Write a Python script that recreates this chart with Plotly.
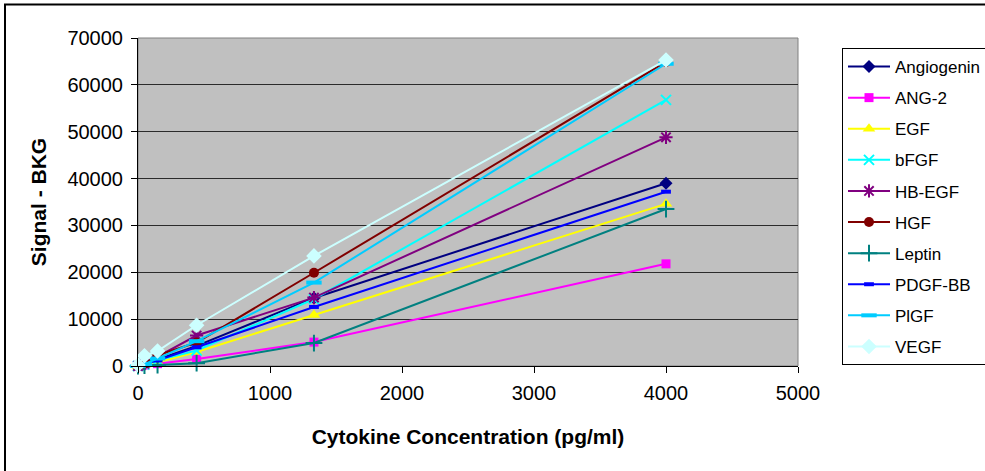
import plotly.graph_objects as go

# ---- data ----
concentration = [0, 49, 148, 444, 1333, 4000]

angiogenin = [0, 400, 1400, 4300, 14500, 39000]
ang2 = [0, 200, 500, 1500, 5100, 21800]
egf = [0, 200, 800, 3000, 10900, 34600]
bfgf = [0, 300, 1200, 3300, 14300, 56800]
hb_egf = [0, 500, 2000, 6500, 14600, 48800]
hgf = [0, 500, 2300, 5000, 19900, 64900]
leptin = [0, 100, 200, 600, 4900, 33500]
pdgf_bb = [0, 400, 1200, 4000, 12600, 37200]
plgf = [0, 400, 1600, 5300, 17800, 64500]
vegf = [200, 2200, 3200, 8700, 23500, 65300]

series_names = ["Angiogenin", "ANG-2", "EGF", "bFGF", "HB-EGF", "HGF",
                "Leptin", "PDGF-BB", "PlGF", "VEGF"]
series_values = [angiogenin, ang2, egf, bfgf, hb_egf, hgf,
                 leptin, pdgf_bb, plgf, vegf]

x_ticks = [0, 1000, 2000, 3000, 4000, 5000]
y_ticks = [0, 10000, 20000, 30000, 40000, 50000, 60000, 70000]

# ---- styles ----
styles = [
    dict(color="#000080", symbol="diamond", size=10, open=False),
    dict(color="#FF00FF", symbol="square", size=9, open=False),
    dict(color="#FFFF00", symbol="triangle-up", size=11, open=False),
    dict(color="#00FFFF", symbol="x-thin-open", size=10, open=True, lw=2),
    dict(color="#800080", symbol="asterisk-open", size=11, open=True, lw=2),
    dict(color="#800000", symbol="circle", size=10, open=False),
    dict(color="#008080", symbol="cross-thin-open", size=12, open=True, lw=2),
    dict(color="#0000FF", symbol="line-ew-open", size=7, open=True, lw=4),
    dict(color="#00CCFF", symbol="line-ew-open", size=11, open=True, lw=4),
    dict(color="#CCFFFF", symbol="diamond", size=12, open=False),
]

fig = go.Figure()
for i, (name, vals, st) in enumerate(zip(series_names, series_values, styles)):
    if st["open"]:
        marker = dict(symbol=st["symbol"], size=st["size"], color=st["color"],
                      line=dict(color=st["color"], width=st["lw"]))
    else:
        marker = dict(symbol=st["symbol"], size=st["size"], color=st["color"],
                      line=dict(width=0))
    fig.add_trace(go.Scatter(
        x=concentration, y=vals, name=name, mode="lines+markers",
        line=dict(color=st["color"], width=2),
        marker=marker, cliponaxis=False, legendgroup=f"g{i}",
    ))

W, H = 985, 471
L, R, T, B = 138, 798, 38, 366.5
pw, ph = R - L, B - T


def px_x(p):
    return (p - L) / pw


def px_y(p):
    return (B - p) / ph


fig.update_layout(
    width=W, height=H, autosize=False,
    margin=dict(l=L, r=W - R, t=T, b=H - B, pad=0, autoexpand=False),
    paper_bgcolor="white",
    plot_bgcolor="#C0C0C0",
    font=dict(family="Arial, Liberation Sans, sans-serif", color="black"),
    showlegend=True,
    legend=dict(
        x=px_x(842), y=px_y(48), xanchor="left", yanchor="top",
        bgcolor="white", bordercolor="black", borderwidth=1,
        font=dict(size=17, family="Arial, Liberation Sans, sans-serif"),
        tracegroupgap=6, itemwidth=42,
    ),
    xaxis=dict(
        range=[0, 5000], tickvals=x_ticks, ticktext=[str(v) for v in x_ticks],
        showgrid=False, zeroline=False, showline=True, linecolor="black",
        linewidth=1, ticks="outside", ticklen=6, tickcolor="black",
        tickfont=dict(size=20), ticklabelstandoff=3,
        title=dict(text="<b>Cytokine Concentration (pg/ml)</b>",
                   font=dict(size=21), standoff=26),
        automargin=False, fixedrange=True,
    ),
    yaxis=dict(
        range=[0, 70000], tickvals=y_ticks, ticktext=[str(v) for v in y_ticks],
        showgrid=True, gridcolor="#2b2b2b", gridwidth=1,
        zeroline=False, showline=True, linecolor="black", linewidth=1,
        ticks="outside", ticklen=6, tickcolor="black",
        tickfont=dict(size=20), ticklabelstandoff=4,
        title=dict(text="<b>Signal - BKG</b>", font=dict(size=21), standoff=15),
        automargin=False, fixedrange=True,
    ),
    shapes=[
        # plot area frame
        dict(type="rect", xref="paper", yref="paper", x0=0, x1=1, y0=0, y1=1,
             line=dict(color="#808080", width=1), fillcolor="rgba(0,0,0,0)",
             layer="below"),
        # outer chart border
        dict(type="rect", xref="paper", yref="paper",
             x0=px_x(5), x1=px_x(1000), y0=px_y(4.5), y1=px_y(480),
             line=dict(color="black", width=2), fillcolor="rgba(0,0,0,0)",
             layer="above"),
    ],
)

fig.write_html("out.html", config={"displayModeBar": False},
               post_script="document.body.style.margin='0';")
